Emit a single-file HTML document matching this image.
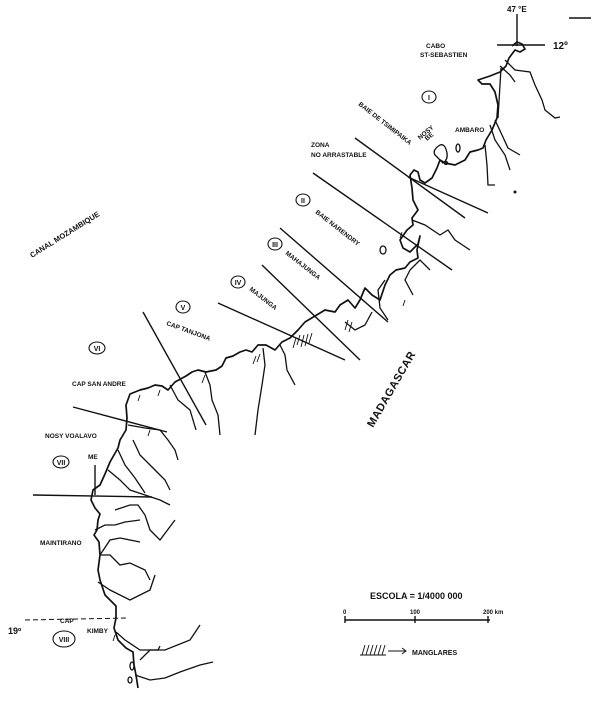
<!DOCTYPE html>
<html><head><style>
html,body{margin:0;padding:0;background:#fff;}
svg{display:block;}
text{font-family:"Liberation Sans",sans-serif;font-weight:bold;fill:#111;}
.c{fill:none;stroke:#111;stroke-width:1.7;stroke-linejoin:round;}
.r{fill:none;stroke:#111;stroke-width:1.3;}
.z{stroke:#111;stroke-width:1.4;}
</style></head><body>
<svg width="600" height="714" viewBox="0 0 600 714">
<line class="z" x1="517" y1="14" x2="517" y2="46"/>
<line class="z" x1="497" y1="45" x2="545" y2="45"/>
<line class="z" x1="569" y1="18" x2="591" y2="18"/>
<text x="507" y="12" font-size="8">47 °E</text>
<text x="553" y="49" font-size="10" font-weight="normal">12º</text>
<polyline class="c" points="512,46 517,42 522,44 525,49 520,52 515,50 509,58 506,66 500,72 490,76 478,80 482,84 490,84 495,92 498,105 497,118 492,130 486,140 483,148 478,150 470,152 465,160 455,165 445,163 440,160 437,168 432,178 425,183 420,180 418,172 414,170 410,175 412,188 413,200 418,210 412,218 413,225 407,230 400,240 403,248 410,252 418,244 420,236 417,250 418,258 410,262 405,268 396,270 390,275 385,285 380,300 372,295 365,288 360,300 355,308 348,300 340,305 335,312 325,310 315,316 305,322 298,330 290,338 282,342 275,350 266,345 258,345 252,352 246,350 240,352 233,356 226,358 222,366 216,370 206,372 198,370 192,372 186,376 175,382 168,390 162,386 155,385 148,388 140,390 130,394 126,405 127,418 126,430 120,440 118,448 110,462 105,474 100,485 93,490 91,500 95,508 100,514 98,520 97,530 94,535 99,542 100,555 98,570 100,580 105,595 116,606 116,618 114,628 118,640 126,648 133,652 134,665 136,675 138,688"/>
<ellipse class="r" cx="458" cy="148" rx="2" ry="4"/>
<path class="r" d="M440,145 q-8,5 -5,10 q5,5 8,8 q5,-3 4,-10 q-2,-10 -7,-8z"/>
<circle class="r" cx="446" cy="163" r="1.5"/>
<ellipse class="r" cx="383" cy="250" rx="3" ry="4"/>
<ellipse class="r" cx="132" cy="666" rx="2" ry="4"/>
<ellipse class="r" cx="130" cy="680" rx="2" ry="3"/>
<circle cx="515" cy="192" r="1.5" fill="#111"/>
<polyline class="r" points="500,66 510,75 515,82"/>
<polyline class="r" points="501,68 498,118"/>
<polyline class="r" points="505,60 515,70 530,72 535,85 542,100 545,110 555,118 560,117"/>
<polyline class="r" points="495,120 502,135 508,148 520,155"/>
<polyline class="r" points="490,125 495,140 505,155 510,170"/>
<polyline class="r" points="485,145 487,165 488,185 495,185"/>
<polyline class="r" points="412,220 425,225 440,235 448,230 455,240 470,250"/>
<polyline class="r" points="430,270 420,260 410,270 405,280 413,295"/>
<polyline class="r" points="385,280 378,290 380,308 388,320"/>
<polyline class="r" points="345,322 355,330 365,325 372,312"/>
<polyline class="r" points="280,345 285,355 287,370 295,385"/>
<polyline class="r" points="263,348 265,365 262,385 258,410 255,435"/>
<polyline class="r" points="205,372 210,385 212,400 218,415 220,435"/>
<polyline class="r" points="170,385 178,400 190,410 196,430"/>
<polyline class="r" points="128,425 145,428 160,430 168,440 175,450 178,460"/>
<polyline class="r" points="133,440 140,455 155,470 165,480 170,490"/>
<polyline class="r" points="118,450 125,465 135,478 145,493"/>
<polyline class="r" points="108,470 120,480 130,490 145,495 160,500 170,505"/>
<polyline class="r" points="115,510 130,505 138,505 145,515 150,530 160,540 175,520"/>
<polyline class="r" points="95,530 105,525 115,525 125,522 140,520"/>
<polyline class="r" points="100,555 110,540 120,538 130,540 140,542"/>
<polyline class="r" points="101,555 110,555 120,565 130,563 145,570 150,580"/>
<polyline class="r" points="98,582 110,590 130,600 150,590 155,575"/>
<polyline class="r" points="116,632 125,640 140,650 165,650 190,640 200,625"/>
<polyline class="r" points="135,675 150,680 165,678 180,672 200,665 213,662"/>
<polyline class="r" points="140,660 150,650 158,650 160,646"/>
<line class="z" x1="355" y1="138" x2="465" y2="218"/>
<line class="z" x1="408" y1="177" x2="488" y2="213"/>
<line class="z" x1="313" y1="173" x2="452" y2="270"/>
<line class="z" x1="280" y1="228" x2="388" y2="322"/>
<line class="z" x1="262" y1="265" x2="360" y2="360"/>
<line class="z" x1="218" y1="303" x2="345" y2="360"/>
<line class="z" x1="143" y1="312" x2="206" y2="425"/>
<line class="z" x1="73" y1="407" x2="167" y2="432"/>
<line class="z" x1="33" y1="495" x2="152" y2="497"/>
<line class="z" x1="95" y1="465" x2="95" y2="495"/>
<line x1="25" y1="620" x2="128" y2="618" stroke="#111" stroke-width="1" stroke-dasharray="5,3"/>
<g stroke="#111" stroke-width="0.9">
<path d="M300,335 l-3,10 M304,335 l-3,12 M308,334 l-3,12 M312,333 l-3,10 M296,338 l-3,10 M348,320 l-3,10 M352,322 l-3,10 M256,356 l-3,8 M260,354 l-3,8 M205,375 l-3,8 M140,395 l-2,6 M160,390 l-2,6 M150,430 l-2,6 M402,232 l-2,6 M405,300 l-2,6 M115,635 l-2,6"/>
</g>
<g fill="none" stroke="#111" stroke-width="1.1">
<ellipse cx="429" cy="97" rx="7" ry="6"/>
<ellipse cx="303" cy="200" rx="7" ry="6"/>
<ellipse cx="275" cy="244" rx="7" ry="6"/>
<ellipse cx="238" cy="282" rx="7" ry="6"/>
<ellipse cx="183" cy="307" rx="7" ry="6"/>
<ellipse cx="97" cy="348" rx="8" ry="6"/>
<ellipse cx="61" cy="462" rx="8" ry="6"/>
<ellipse cx="64" cy="639" rx="11" ry="8"/>
</g>
<g font-size="7" text-anchor="middle">
<text x="429" y="100">I</text><text x="303" y="203">II</text><text x="275" y="247">III</text>
<text x="238" y="285">IV</text><text x="183" y="310">V</text><text x="97" y="351">VI</text>
<text x="61" y="465">VII</text><text x="64" y="642">VIII</text>
</g>
<g font-size="6.5">
<text x="426" y="48">CABO</text><text x="420" y="57">ST-SEBASTIEN</text>
<text x="455" y="132">AMBARO</text>
<text transform="translate(420,140) rotate(-40)">NOSY</text>
<text transform="translate(427,141) rotate(-40)">BE</text>
<text transform="translate(358,105) rotate(38)">BAIE DE TSIMIPAIKA</text>
<text x="311" y="147">ZONA</text><text x="311" y="157">NO ARRASTABLE</text>
<text transform="translate(315,213) rotate(38)">BAIE NARENDRY</text>
<text transform="translate(285,254) rotate(38)">MAHAJUNGA</text>
<text transform="translate(249,290) rotate(38)">MAJUNGA</text>
<text transform="translate(166,325) rotate(20)">CAP TANJONA</text>
<text x="72" y="386">CAP SAN ANDRE</text>
<text x="45" y="438">NOSY VOALAVO</text>
<text x="88" y="459">ME</text>
<text x="40" y="545">MAINTIRANO</text>
<text x="60" y="623">CAP</text>
<text x="87" y="633">KIMBY</text>
<text x="8" y="634" font-size="9" font-weight="normal">19º</text>
</g>
<text transform="translate(32,258) rotate(-32)" font-size="7.5">CANAL MOZAMBIQUE</text>
<text transform="translate(373,428) rotate(-60)" font-size="11" font-weight="normal" letter-spacing="0.5">MADAGASCAR</text>
<text x="370" y="599" font-size="9">ESCOLA = 1/4000 000</text>
<line class="z" x1="345" y1="620" x2="490" y2="620"/>
<line class="z" x1="345" y1="616" x2="345" y2="623"/>
<line class="z" x1="415" y1="616" x2="415" y2="623"/>
<line class="z" x1="488" y1="616" x2="488" y2="623"/>
<text x="343" y="614" font-size="6">0</text>
<text x="410" y="614" font-size="6">100</text>
<text x="483" y="614" font-size="6">200 km</text>
<g stroke="#111" stroke-width="0.9">
<path d="M362,655 l3,-10 M366,655 l3,-10 M370,655 l3,-10 M374,655 l3,-10 M378,655 l3,-10 M382,655 l3,-10 M360,655 h26"/>
<path d="M388,651 h18 M402,648 l4,3 l-4,3" fill="none"/>
</g>
<text x="412" y="655" font-size="7">MANGLARES</text>
</svg>
</body></html>
